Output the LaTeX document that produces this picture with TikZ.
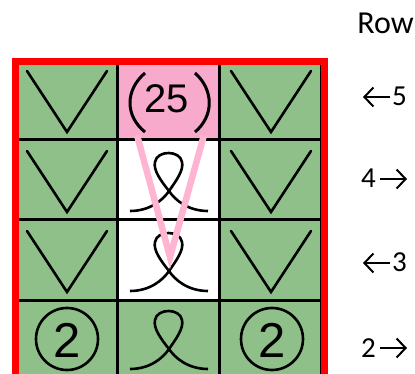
\documentclass[tikz,border=0pt]{standalone}
\usepackage{fontspec}
\usetikzlibrary{arrows.meta}
\setmainfont{Carlito}
\newfontfamily\arialfont{Liberation Sans}
\definecolor{cellgreen}{RGB}{143,192,137}
\definecolor{cellpink}{RGB}{248,170,204}
\definecolor{vpink}{RGB}{255,180,210}
\definecolor{borderred}{RGB}{255,0,0}
\tikzset{
  cell/.style={draw=black, line width=3pt, minimum width=102pt, minimum height=80pt, inner sep=0pt, outer sep=0pt},
  stroke/.style={line width=2.6pt, line cap=round, line join=miter},
  vmark/.pic={\draw[stroke] (-39,-29) -- (1,32) -- (41,-29);},
  loopmark/.pic={\draw[stroke, line cap=butt] (-38,31) .. controls (-18,31) and (-5,20) .. (1,11)
      .. controls (8,1) and (16,-10) .. (14,-18)
      .. controls (12,-30) and (-11,-30) .. (-13,-18)
      .. controls (-15,-10) and (-7,1) .. (1,11)
      .. controls (7,20) and (20,31) .. (40,31);},
  num/.style={inner sep=0pt, font=\fontsize{29}{29}\selectfont},
  rowarrow/.style={line width=2pt, -{Straight Barb[length=9pt, width=19pt, line width=2pt]}},
}
\begin{document}
\begin{tikzpicture}[x=1pt,y=-1pt]
\useasboundingbox (0,0) rectangle (415,374);
% cells: rows 5,4,3,2 ; columns a,b,c
\node[cell, fill=cellgreen] (c5a) at (66,100) {};
\node[cell, fill=cellpink]  (c5b) at (168,100) {};
\node[cell, fill=cellgreen] (c5c) at (270,100) {};
\node[cell, fill=cellgreen] (c4a) at (66,180) {};
\node[cell, fill=white]     (c4b) at (168,180) {};
\node[cell, fill=cellgreen] (c4c) at (270,180) {};
\node[cell, fill=cellgreen] (c3a) at (66,260) {};
\node[cell, fill=white]     (c3b) at (168,260) {};
\node[cell, fill=cellgreen] (c3c) at (270,260) {};
\node[cell, fill=cellgreen] (c2a) at (66,340) {};
\node[cell, fill=cellgreen] (c2b) at (168,340) {};
\node[cell, fill=cellgreen] (c2c) at (270,340) {};
% V marks
\pic at (c5a.center) {vmark};
\pic at (c5c.center) {vmark};
\pic at (c4a.center) {vmark};
\pic at (c4c.center) {vmark};
\pic at (c3a.center) {vmark};
\pic at (c3c.center) {vmark};
% loops
\pic at (c4b.center) {loopmark};
\pic at (c3b.center) {loopmark};
\pic at ([yshift=2pt]c2b.center) {loopmark};
% circled 2
\node[draw, circle, line width=2.6pt, minimum size=62pt, inner sep=0pt] (o2a) at (67,339) {};
\node[draw, circle, line width=2.6pt, minimum size=62pt, inner sep=0pt] (o2c) at (272,339) {};
\node[inner sep=0pt, font=\arialfont\fontsize{49}{49}\selectfont] (t2a) at (67,340.5) {2};
\node[inner sep=0pt, font=\arialfont\fontsize{49}{49}\selectfont] (t2c) at (272,340.5) {2};
% (25)
\node[inner sep=0pt, anchor=base, font=\arialfont\fontsize{40}{40}\selectfont] (t25) at (167,113) {25};
\draw[line width=3pt] (145,73) .. controls (125,90) and (125,116) .. (145,132);
\draw[line width=3pt] (195,73) .. controls (214,90) and (214,116) .. (195,132);
% pink V
\coordinate (pvl) at (137,135);
\coordinate (pvb) at (170,257);
\coordinate (pvr) at (204,135);
\draw[vpink, line width=6.5pt, line join=miter] (pvl) -- (pvb) -- (pvr);
% red border
\draw[borderred, line width=7pt] (15,62) rectangle (324,400);
% row labels
\node[inner sep=0pt, anchor=base east, font=\fontsize{32}{32}\selectfont] (row) at (414,34) {Row};
\node[num, anchor=base east] (r5) at (407,106) {5};
\node[num, anchor=base west] (r4) at (361,188) {4};
\node[num, anchor=base east] (r3) at (407,272) {3};
\node[num, anchor=base west] (r2) at (361,357) {2};
\coordinate (a5s) at (390,97);  \coordinate (a5e) at (363,97);
\coordinate (a4s) at (380,179); \coordinate (a4e) at (407,179);
\coordinate (a3s) at (390,263); \coordinate (a3e) at (363,263);
\coordinate (a2s) at (380,348); \coordinate (a2e) at (407,348);
\draw[rowarrow] (a5s) -- (a5e);
\draw[rowarrow] (a4s) -- (a4e);
\draw[rowarrow] (a3s) -- (a3e);
\draw[rowarrow] (a2s) -- (a2e);
\end{tikzpicture}
\end{document}
